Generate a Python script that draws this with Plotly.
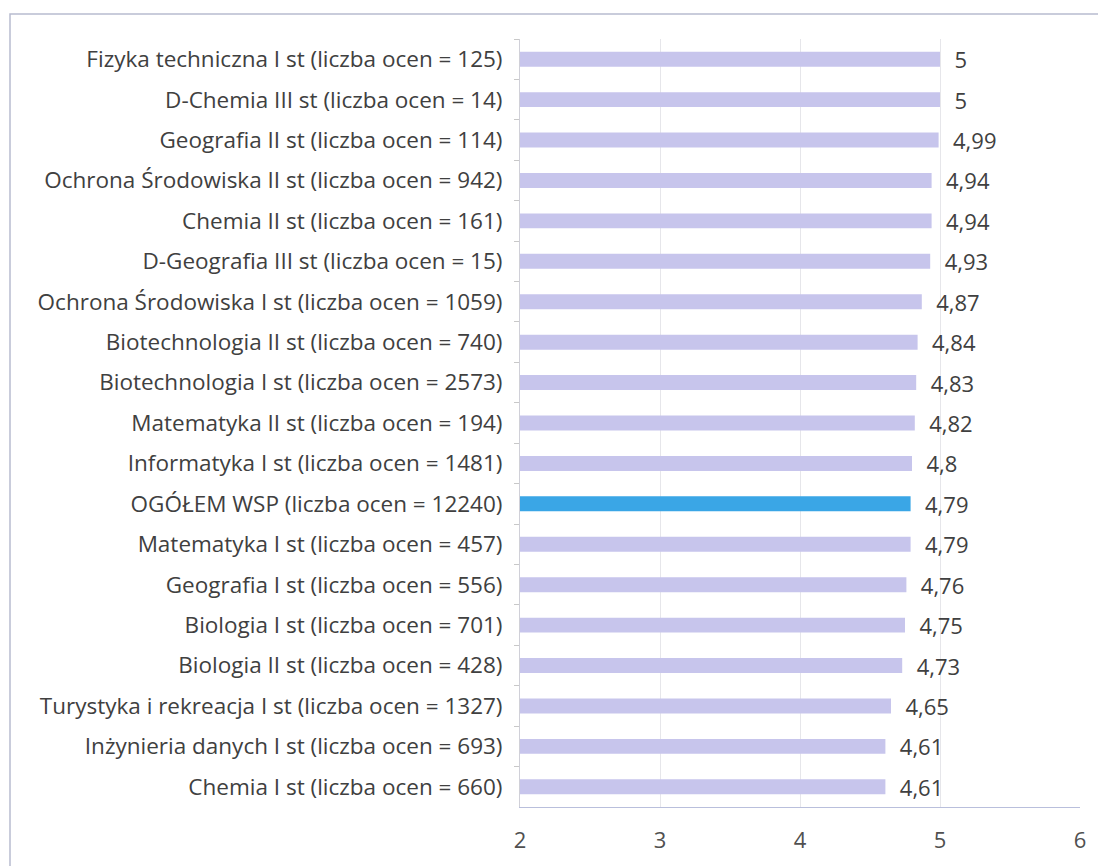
import plotly.graph_objects as go

categories = [
    "Fizyka techniczna I st (liczba ocen = 125)",
    "D-Chemia III st (liczba ocen = 14)",
    "Geografia II st (liczba ocen = 114)",
    "Ochrona Środowiska II st (liczba ocen = 942)",
    "Chemia II st (liczba ocen = 161)",
    "D-Geografia III st (liczba ocen = 15)",
    "Ochrona Środowiska I st (liczba ocen = 1059)",
    "Biotechnologia II st (liczba ocen = 740)",
    "Biotechnologia I st (liczba ocen = 2573)",
    "Matematyka II st (liczba ocen = 194)",
    "Informatyka I st (liczba ocen = 1481)",
    "OGÓŁEM WSP (liczba ocen = 12240)",
    "Matematyka I st (liczba ocen = 457)",
    "Geografia I st (liczba ocen = 556)",
    "Biologia I st (liczba ocen = 701)",
    "Biologia II st (liczba ocen = 428)",
    "Turystyka i rekreacja I st (liczba ocen = 1327)",
    "Inżynieria danych I st (liczba ocen = 693)",
    "Chemia I st (liczba ocen = 660)",
]
values = [5, 5, 4.99, 4.94, 4.94, 4.93, 4.87, 4.84, 4.83, 4.82, 4.8, 4.79, 4.79, 4.76, 4.75, 4.73, 4.65, 4.61, 4.61]
highlight = "OGÓŁEM WSP (liczba ocen = 12240)"
x_ticks = [2, 3, 4, 5, 6]

colors = ["#3aa6e6" if c == highlight else "#c7c5ec" for c in categories]
labels = ["  " + f"{v:g}".replace(".", ",") for v in values]

FONT = "'Open Sans', sans-serif"

fig = go.Figure(go.Bar(
    x=values, y=categories, orientation="h",
    marker=dict(color=colors, line=dict(width=0)),
    text=labels, textposition="outside", constraintext="none",
    textfont=dict(family=FONT, size=22, color="#404040"),
    cliponaxis=False,
    width=0.37,
))

W, H = 1106, 866
ml, mr, mt, mb = 512, 34, 31, 67
pw, ph = W - ml - mr, H - mt - mb

fig.update_layout(
    width=W, height=H,
    margin=dict(l=ml, r=mr, t=mt, b=mb, autoexpand=False),
    paper_bgcolor="white", plot_bgcolor="white",
    font=dict(family=FONT, size=22, color="#404040"),
    showlegend=False,
    xaxis=dict(range=[2, 6], tickvals=x_ticks, showgrid=True, gridcolor="#e6e6ea",
               zeroline=False, showline=True, linecolor="#b9bfdc", linewidth=1,
               ticks="", tickfont=dict(size=22, color="#505050"), ticklabelstandoff=14,
               automargin=False),
    yaxis=dict(autorange="reversed", tickson="boundaries", ticks="outside", ticklen=5,
               tickcolor="#c8c8c8", showline=True, linecolor="#d0d0d8",
               showgrid=False, tickfont=dict(size=22.5, color="#404040"), ticklabelstandoff=12,
               automargin=False),
    shapes=[dict(type="rect", xref="paper", yref="paper",
                 x0=(2 - ml) / pw, x1=(1092 - ml) / pw,
                 y0=(H - mb - 880) / ph, y1=(H - mb - 6) / ph,
                 line=dict(color="#b8bccf", width=1.5), fillcolor="rgba(0,0,0,0)", layer="below")],
)

fig.write_html("out.html")
